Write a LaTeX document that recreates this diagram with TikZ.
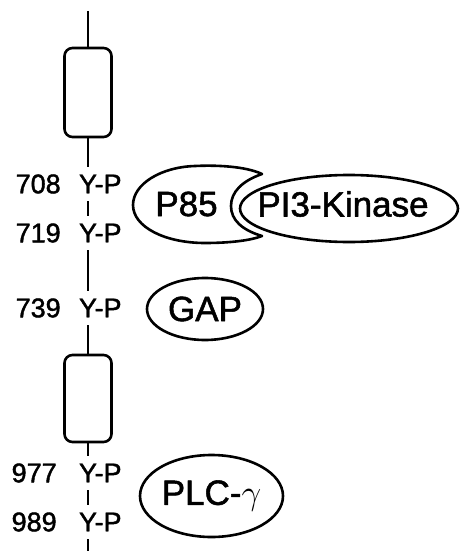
\RequirePackage{fix-cm}
\documentclass[tikz,border=0pt]{standalone}
\usepackage{fontspec}
\setmainfont{Liberation Sans}[FakeBold=1.5]
\newfontfamily\heavy{Liberation Sans}[FakeBold=1.5]
\usetikzlibrary{positioning,shapes.geometric}

\begin{document}
\begin{tikzpicture}[x=1pt,y=-1pt,line width=2.6pt,line join=round,
    site/.style={inner sep=0pt,outer xsep=0pt,outer ysep=8pt,anchor=west,font=\heavy\fontsize{27}{30}\selectfont},
    num/.style={inner sep=0pt,font=\heavy\fontsize{27}{30}\selectfont},
    segbox/.style={draw,rounded corners=8pt,minimum width=47pt,inner sep=0pt},
    protein/.style={draw,ellipse,inner sep=0pt,font=\heavy\fontsize{35}{40}\selectfont}]
    \useasboundingbox (0,0) rectangle (460,551);
    \coordinate (top) at (88,11);
    \coordinate (bottom) at (88,551);
    % transmembrane and kinase insert boxes
    \node[segbox,minimum height=89pt] (box1) at (88,92.5) {};
    \node[segbox,minimum height=87pt] (box2) at (88,398.5) {};
    % phosphotyrosine sites
    \node[site] (s708) at (79,184) {Y-P};
    \node[site] (s719) at (79,233) {Y-P};
    \node[site] (s739) at (79,308) {Y-P};
    \node[site] (s977) at (79,473) {Y-P};
    \node[site] (s989) at (79,522) {Y-P};
    \node[num,left=17pt of s708] {708};
    \node[num,left=17pt of s719] {719};
    \node[num,left=17pt of s739] {739};
    \node[num,left=21pt of s977] {977};
    \node[num,left=21pt of s989] {989};
    % backbone
    \draw (top) -- (box1.north);
    \draw (box1.south) -- (box1.south |- s708.north);
    \draw (s708.south -| box1.south) -- (s719.north -| box1.south);
    \draw (s719.south -| box1.south) -- (s739.north -| box1.south);
    \draw (s739.south -| box2.north) -- (box2.north);
    \draw (box2.south) -- (box2.south |- s977.north);
    \draw (s977.south -| box2.south) -- (s989.north -| box2.south);
    \draw (s989.south -| box2.south) -- (bottom);
    % P85 with its notch, PI3-Kinase sitting in it
    \node[font=\heavy\fontsize{35}{40}\selectfont] (p85) at (186.5,204) {P85};
    \draw (262,174) .. controls (245,166) and (215,165) .. (195,166)
        .. controls (161,167) and (133,184) .. (133,205)
        .. controls (133,227) and (165,243) .. (205,243)
        .. controls (232,243) and (252,240) .. (262,236)
        .. controls (242,230) and (231,220) .. (231,206)
        .. controls (231,192) and (242,181) .. (262,174) -- cycle;
    \coordinate (pikc) at (349,208.5);
    \node[font=\heavy\fontsize{35}{40}\selectfont] (pik) at (343,204) {PI3-Kinase};
    \draw (pikc) ellipse [x radius=109, y radius=33.5];
    \node[protein,minimum width=116pt,minimum height=62pt] (gap) at (205,309) {GAP};
    \node[protein,minimum width=143pt,minimum height=82pt] (plc) at (211.5,496) {PLC-$\gamma$};
\end{tikzpicture}
\end{document}
